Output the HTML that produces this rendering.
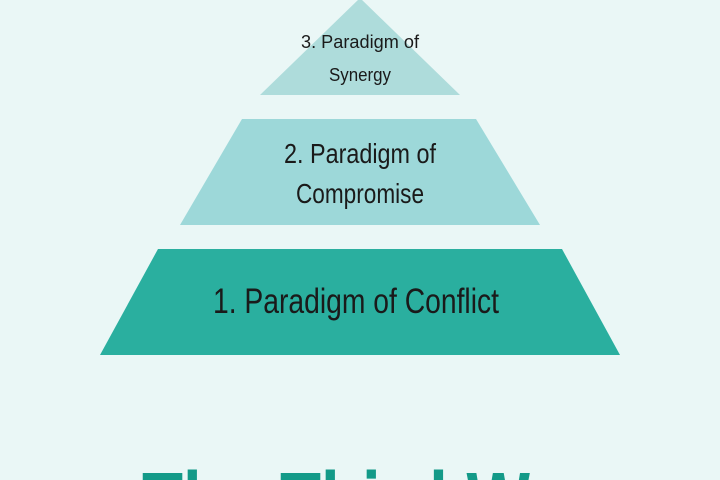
<!DOCTYPE html>
<html><head><style>
html,body{margin:0;padding:0;background:#eaf7f6;width:720px;height:480px;overflow:hidden;}
svg{display:block}
</style></head><body>
<svg width="720" height="480" viewBox="0 0 720 480" xmlns="http://www.w3.org/2000/svg">
<rect width="720" height="480" fill="#eaf7f6"/>
<polygon points="360,-2 460,95 260,95" fill="#aedcdb"/>
<polygon points="242,119 476,119 540,225 180,225" fill="#9dd8d9"/>
<polygon points="158,249 562,249 620,355 100,355" fill="#2aaf9f"/>
<g font-family="Liberation Sans, sans-serif" fill="#1a1a1a" text-anchor="middle">
<text x="360" y="48" font-size="18" textLength="118" lengthAdjust="spacingAndGlyphs">3. Paradigm of</text>
<text x="360" y="81" font-size="18" textLength="62" lengthAdjust="spacingAndGlyphs">Synergy</text>
<text x="360" y="163" font-size="28" textLength="152" lengthAdjust="spacingAndGlyphs">2. Paradigm of</text>
<text x="360" y="203" font-size="28" textLength="128" lengthAdjust="spacingAndGlyphs">Compromise</text>
<text x="356" y="313" font-size="35" textLength="286" lengthAdjust="spacingAndGlyphs">1. Paradigm of Conflict</text>
</g>
<text x="142" y="535" font-family="Liberation Sans, sans-serif" font-weight="bold" font-size="90" fill="#139a88" textLength="460" lengthAdjust="spacingAndGlyphs">The Third Way</text>
</svg>
</body></html>
